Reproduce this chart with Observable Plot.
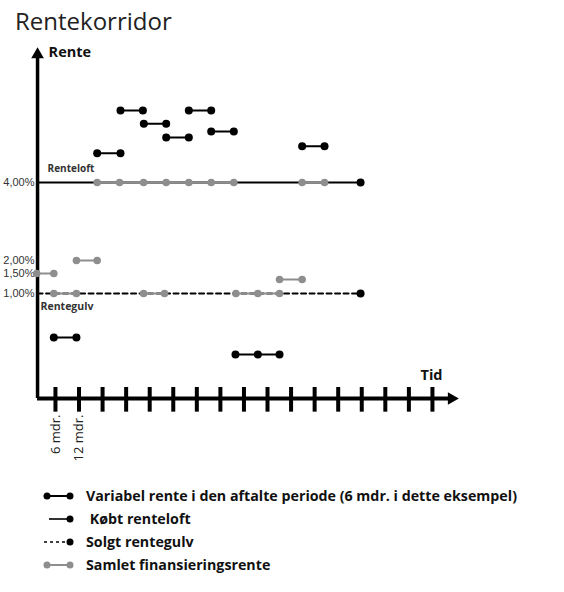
<!DOCTYPE html>
<html>
<head>
<meta charset="utf-8">
<script src="https://cdn.jsdelivr.net/npm/d3@7"></script>
<script src="https://cdn.jsdelivr.net/npm/@observablehq/plot@0.6"></script>
<style>
  html, body { margin: 0; padding: 0; background: #fff; }
  body { width: 564px; height: 592px; overflow: hidden; font-family: "Open Sans", Lato, sans-serif; }
  #title { height: 40px; box-sizing: border-box; padding: 8px 0 0 15px; font-size: 24px; line-height: 26px; color: #222; }
  #chart { height: 440px; }
  #legend { padding-top: 4px; padding-left: 43px; }
  .row { display: flex; align-items: center; height: 23px; }
  .row svg { width: 32px; height: 12px; margin-right: 11px; }
  .row span { font-weight: bold; font-size: 14.25px; color: #111; white-space: nowrap; }
</style>
</head>
<body>
<div id="title">Rentekorridor</div>
<div id="chart"></div>
<div id="legend"></div>
<script>
// ---- data ----
// time axis: tick positions (one per 6-month period) and labels
const xTicks = [1, 2, 3, 4, 5, 6, 7, 8, 9, 10, 11, 12, 13, 14, 15, 16, 17];
const xTickLabels = ["6 mdr.", "12 mdr."];
// rate axis ticks (%)
const yTicks = [1, 1.5, 2, 4];
const yTickLabels = ["1,00%", "1,50%", "2,00%", "4,00%"];

// corridor
const capRate = 4;      // købt renteloft
const floorRate = 1;    // solgt rentegulv
const corridorEnd = 13.95;

// variable rate in each agreed period (black)
const varTimes = [
  [0.93, 1.89],
  [2.77, 3.76],
  [3.76, 4.71],
  [4.75, 5.70],
  [5.70, 6.66],
  [6.66, 7.61],
  [7.61, 8.57],
  [8.64, 9.59, 10.51],
  [11.47, 12.42]
];
const varRates = [0.58, 4.79, 5.95, 5.59, 5.22, 5.95, 5.38, 0.42, 4.98];

// combined financing rate (grey)
const totTimes = [
  [0.2, 0.93],
  [0.93, 1.89],
  [1.89, 2.77],
  [2.77, 3.72, 4.74, 5.70, 6.66, 7.61, 8.57],
  [4.74, 5.63],
  [8.66, 9.59, 10.51],
  [10.51, 11.47],
  [11.47, 12.42]
];
const totRates = [1.5, 1, 2, 4, 1, 1, 1.35, 4];

// axis geometry (in data units)
const xOrigin = 0.24;
const xArrow = 17.81;
const yTop = 7.46;
const tickLo = -0.13, tickHi = 0.105;

// ---- build tables ----
const varRows = varTimes.flatMap((ts, run) => ts.map(t => ({run, t, r: varRates[run]})));
const totRows = totTimes.flatMap((ts, run) => ts.map(t => ({run, t, r: totRates[run]})));
const capLine = [{t: xOrigin, r: capRate}, {t: corridorEnd, r: capRate}];
const floorLine = [{t: xOrigin, r: floorRate}, {t: corridorEnd, r: floorRate}];

const black = "#000";
const grey = "#8e8e8e";
const font = "'Open Sans', Lato, sans-serif";

const chart = Plot.plot({
  width: 564,
  height: 440,
  marginLeft: 37,
  marginTop: 10,
  marginBottom: 82,
  marginRight: 0,
  style: {fontFamily: font, background: "#fff", overflow: "visible"},
  x: {type: "linear", domain: [0, 18], range: [31.4, 455.5], axis: null},
  // schematic (piecewise) rate axis, as in the reference drawing
  y: {type: "linear", domain: [0, 1, 1.5, 2, 4, 7.65], range: [358, 253, 233, 220, 142, 7], axis: null},
  marks: [
    // y axis
    Plot.axisY(yTicks, {anchor: "left", tickSize: 0, tickPadding: 3, fontSize: 11, fill: "#333",
      fontFamily: "'Liberation Sans', Arial, sans-serif",
      tickFormat: d => yTickLabels[yTicks.indexOf(d)], label: null}),
    Plot.ruleX([xOrigin], {y1: 0, y2: yTop, stroke: black, strokeWidth: 3.5}),
    Plot.dot([xOrigin], {x: d => d, y: yTop, symbol: "triangle", r: 4.7, fill: black, stroke: null}),
    Plot.text(["Rente"], {x: xOrigin, y: yTop, dx: 11, dy: -2, textAnchor: "start", fontWeight: "bold", fontSize: 14.5, fill: "#111"}),
    // x axis
    Plot.ruleY([0], {x1: xOrigin, x2: xArrow, stroke: black, strokeWidth: 4}),
    Plot.dot([xArrow], {x: d => d, y: 0, symbol: "triangle", rotate: 90, r: 4.7, fill: black, stroke: null}),
    Plot.ruleX(xTicks, {x: d => d, y1: tickLo, y2: tickHi, stroke: black, strokeWidth: 4}),
    Plot.text(xTickLabels, {x: (d, i) => xTicks[i], y: 0, dy: 16, rotate: -90, textAnchor: "end", fontSize: 13, fill: "#222"}),
    Plot.text(["Tid"], {x: xArrow, y: 0, dx: -9, dy: -23, textAnchor: "end", fontWeight: "bold", fontSize: 14.5, fill: "#111"}),
    // corridor: cap (solid) and floor (dashed)
    Plot.line(capLine, {x: "t", y: "r", stroke: black, strokeWidth: 2}),
    Plot.dot([corridorEnd], {x: d => d, y: capRate, r: 4, fill: black}),
    Plot.line(floorLine, {x: "t", y: "r", stroke: black, strokeWidth: 2, strokeDasharray: "5,3.5"}),
    Plot.dot([corridorEnd], {x: d => d, y: floorRate, r: 4, fill: black}),
    Plot.text(["Renteloft"], {x: xOrigin, y: capRate, dx: 10, dy: -14, textAnchor: "start", fontWeight: "bold", fontSize: 10, fill: "#333"}),
    Plot.text(["Rentegulv"], {x: xOrigin, y: floorRate, dx: 3, dy: 13, textAnchor: "start", fontWeight: "bold", fontSize: 10.5, fill: "#333"}),
    // combined financing rate
    Plot.line(totRows, {x: "t", y: "r", z: "run", stroke: grey, strokeWidth: 2}),
    Plot.dot(totRows, {x: "t", y: "r", r: 3.8, fill: grey}),
    // variable rate
    Plot.line(varRows, {x: "t", y: "r", z: "run", stroke: black, strokeWidth: 2}),
    Plot.dot(varRows, {x: "t", y: "r", r: 4, fill: black})
  ]
});
document.getElementById("chart").appendChild(chart);

// ---- legend ----
const legendItems = [
  {label: "Variabel rente i den aftalte periode (6 mdr. i dette eksempel)", kind: "var"},
  {label: "\u00a0Købt renteloft", kind: "cap"},
  {label: "Solgt rentegulv", kind: "floor"},
  {label: "Samlet finansieringsrente", kind: "tot"}
];
const legend = document.getElementById("legend");
for (const item of legendItems) {
  const row = document.createElement("div");
  row.className = "row";
  let sw = "";
  if (item.kind === "var") sw = `<line x1="4" x2="27" y1="6" y2="6" stroke="${black}" stroke-width="2"/><circle cx="4" cy="6" r="3.5" fill="${black}"/><circle cx="27" cy="6" r="3.5" fill="${black}"/>`;
  if (item.kind === "cap") sw = `<line x1="6" x2="27" y1="6" y2="6" stroke="${black}" stroke-width="1.6"/><circle cx="27" cy="6" r="3.5" fill="${black}"/>`;
  if (item.kind === "floor") sw = `<line x1="1" x2="23" y1="6" y2="6" stroke="${black}" stroke-width="1.4" stroke-dasharray="3,3"/><circle cx="27" cy="6" r="3.5" fill="${black}"/>`;
  if (item.kind === "tot") sw = `<line x1="4" x2="27" y1="6" y2="6" stroke="${grey}" stroke-width="2"/><circle cx="4" cy="6" r="3.5" fill="${grey}"/><circle cx="27" cy="6" r="3.5" fill="${grey}"/>`;
  row.innerHTML = `<svg viewBox="0 0 32 12">${sw}</svg><span>${item.label}</span>`;
  legend.appendChild(row);
}
</script>
</body>
</html>
